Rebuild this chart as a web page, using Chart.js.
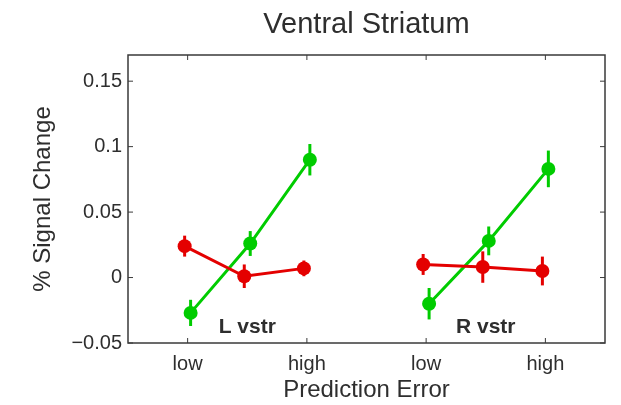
<!DOCTYPE html>
<html>
<head>
<meta charset="utf-8">
<title>Ventral Striatum</title>
<script src="https://cdn.jsdelivr.net/npm/chart.js@4"></script>
<style>
  html, body { margin: 0; padding: 0; background: #ffffff; }
  #wrap { width: 621px; height: 405px; }
</style>
</head>
<body>
<div id="wrap"><canvas id="chart" width="621" height="405"></canvas></div>
<script>
// Prediction-error levels (x positions) for the left and right hemisphere groups
const levelsLeft = [1, 2, 3];
const levelsRight = [5, 6, 7];

// Axis ticks
const xTickValues = [1, 3, 5, 7];
const xTickLabels = ['low', 'high', 'low', 'high'];
const yTickValues = [-0.05, 0, 0.05, 0.1, 0.15];
const yTickLabels = ['\u22120.05', '0', '0.05', '0.1', '0.15'];

// Region labels, centred under each group
const groupNames = ['L vstr', 'R vstr'];
const groupCenters = [2, 6];

// Mean % signal change and SEM
const redLeft = [0.024, 0.001, 0.007];
const redLeftErr = [0.008, 0.009, 0.006];
const redRight = [0.010, 0.008, 0.005];
const redRightErr = [0.008, 0.012, 0.011];
const greenLeft = [-0.027, 0.026, 0.090];
const greenLeftErr = [0.010, 0.0095, 0.012];
const greenRight = [-0.020, 0.028, 0.083];
const greenRightErr = [0.012, 0.011, 0.014];

const RED = 'rgb(228,0,0)';
const GREEN = 'rgb(0,204,0)';
const INK = '#2e2e2e';
const FONT = '"Liberation Sans", Arial, Helvetica, sans-serif';
const dodge = 0.05; // small horizontal offset so the two series do not overlap

function series(levels, means, errs, shift) {
  return levels.map((lv, i) => ({ x: lv + shift, y: means[i], err: errs[i] }));
}

function ds(label, data, color) {
  return {
    label,
    data,
    borderColor: color,
    backgroundColor: color,
    borderWidth: 3,
    pointRadius: 7,
    pointHoverRadius: 7,
    pointBorderWidth: 0,
    pointBackgroundColor: color,
    showLine: true,
    tension: 0
  };
}

// Vertical error bars for every point
const errorBars = {
  id: 'errorBars',
  afterDatasetDraw(chart, args) {
    const meta = args.meta;
    const dataset = chart.data.datasets[args.index];
    const y = chart.scales.y;
    const ctx = chart.ctx;
    ctx.save();
    ctx.strokeStyle = dataset.borderColor;
    ctx.lineWidth = 3;
    ctx.lineCap = 'butt';
    meta.data.forEach((pt, i) => {
      const d = dataset.data[i];
      ctx.beginPath();
      ctx.moveTo(pt.x, y.getPixelForValue(d.y - d.err));
      ctx.lineTo(pt.x, y.getPixelForValue(d.y + d.err));
      ctx.stroke();
    });
    ctx.restore();
  }
};

// Box around the plot with inward ticks on all four sides, plus region labels
const frame = {
  id: 'frame',
  afterDraw(chart) {
    const { ctx, chartArea: a, scales } = chart;
    const len = 5;
    ctx.save();
    ctx.strokeStyle = '#3a3a3a';
    ctx.lineWidth = 1.5;
    ctx.strokeRect(a.left, a.top, a.right - a.left, a.bottom - a.top);
    ctx.lineWidth = 1;
    ctx.beginPath();
    yTickValues.forEach(v => {
      const py = scales.y.getPixelForValue(v);
      ctx.moveTo(a.left, py); ctx.lineTo(a.left + len, py);
      ctx.moveTo(a.right, py); ctx.lineTo(a.right - len, py);
    });
    xTickValues.forEach(v => {
      const px = scales.x.getPixelForValue(v);
      ctx.moveTo(px, a.bottom); ctx.lineTo(px, a.bottom - len);
      ctx.moveTo(px, a.top); ctx.lineTo(px, a.top + len);
    });
    ctx.stroke();

    ctx.fillStyle = INK;
    ctx.font = 'bold 21px ' + FONT;
    ctx.textAlign = 'center';
    ctx.textBaseline = 'alphabetic';
    groupNames.forEach((name, i) => {
      ctx.fillText(name, scales.x.getPixelForValue(groupCenters[i]), a.bottom - 10);
    });
    ctx.restore();
  }
};

new Chart(document.getElementById('chart'), {
  type: 'scatter',
  data: {
    datasets: [
      ds('L red', series(levelsLeft, redLeft, redLeftErr, -dodge), RED),
      ds('R red', series(levelsRight, redRight, redRightErr, -dodge), RED),
      ds('L green', series(levelsLeft, greenLeft, greenLeftErr, dodge), GREEN),
      ds('R green', series(levelsRight, greenRight, greenRightErr, dodge), GREEN)
    ]
  },
  options: {
    responsive: false,
    animation: false,
    devicePixelRatio: 1,
    layout: { padding: { left: 0, right: 16, top: 0, bottom: 0 } },
    plugins: {
      legend: { display: false },
      tooltip: { enabled: false },
      title: {
        display: true,
        text: 'Ventral Striatum',
        fullSize: false,
        color: INK,
        font: { family: FONT, size: 29, weight: 'normal', lineHeight: 1.2 },
        padding: { top: 8, bottom: 12.2 }
      }
    },
    scales: {
      x: {
        type: 'linear',
        min: 0,
        max: 8,
        grid: { display: false, drawTicks: false },
        border: { display: false },
        afterBuildTicks(scale) { scale.ticks = xTickValues.map(v => ({ value: v })); },
        afterFit(scale) { scale.height = 62; },
        ticks: {
          padding: 9,
          color: INK,
          font: { family: FONT, size: 20 },
          maxRotation: 0,
          callback: (v, i) => xTickLabels[i]
        },
        title: {
          display: true,
          text: 'Prediction Error',
          color: INK,
          font: { family: FONT, size: 24 },
          padding: { top: 0, bottom: 0 }
        }
      },
      y: {
        type: 'linear',
        min: -0.05,
        max: 0.17,
        grid: { display: false, drawTicks: false },
        border: { display: false },
        afterBuildTicks(scale) { scale.ticks = yTickValues.map(v => ({ value: v })); },
        afterFit(scale) { scale.width = 128; },
        ticks: {
          padding: 6,
          color: INK,
          font: { family: FONT, size: 20 },
          callback: (v, i) => yTickLabels[i]
        },
        title: {
          display: true,
          text: '% Signal Change',
          color: INK,
          font: { family: FONT, size: 24 },
          padding: { top: 28.6, bottom: 0 }
        }
      }
    }
  },
  plugins: [errorBars, frame]
});
</script>
</body>
</html>
